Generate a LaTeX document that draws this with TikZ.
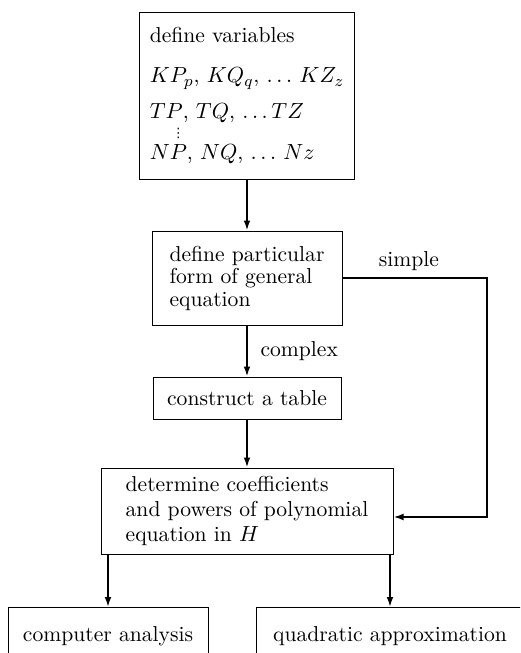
\documentclass[tikz,border=0pt]{standalone}
\usepackage{amsmath,amssymb}
\usepackage{fontspec}
\usepackage{tikz}
\usetikzlibrary{positioning,arrows.meta}
\usepackage{xcolor}
\newfontfamily\dotsfont{DejaVu Sans}
\newcommand{\colondots}{\smash{\raisebox{11pt}{\dotsfont\fontsize{6.5}{7}\selectfont ⋮}}}

\begin{document}
\begin{tikzpicture}[x=0.5pt,y=-0.5pt,>={Latex[length=5pt,width=3.4pt]},
  box/.style={draw,line width=0.5pt,inner sep=0pt,align=left,font=\fontsize{10.8}{11.25}\selectfont},
  flow/.style={->,line width=0.9pt}]
\useasboundingbox (0,0) rectangle (520,653);
\clip (0,0) rectangle (520,653);
\node[box,minimum width=107.5pt,minimum height=83.5pt] (vars) at (247,95.5) {define variables\\[8.75pt] $KP_p$, $KQ_q$, $\ldots\,KZ_z$\\[6.75pt] $TP$, $TQ$, $\ldots TZ$\\[9pt] \rlap{\hspace{11pt}\colondots}$NP$, $NQ$, $\ldots\,Nz$};
\node[box,minimum width=95pt,minimum height=47pt] (form) at (247,278) {define particular\\form of general\\equation};
\node[box,minimum width=94pt,minimum height=21pt] (table) at (247,398) {construct a table};
\node[box,minimum width=146pt,minimum height=43pt,font=\fontsize{10.8}{12.5}\selectfont] (coeff) at (247,511) {determine coefficients\\and powers of polynomial\\equation in $H$};
\node[box,anchor=north,minimum width=100pt,minimum height=29pt] (computer) at (108,607) {computer analysis};
\node[box,anchor=north,minimum width=134pt,minimum height=29pt] (quad) at (390,607) {quadratic approximation};
\coordinate (back) at (487,517);
\draw[flow] (vars) -- (form);
\draw[flow] (form) -- node[right=3pt,font=\fontsize{10.8}{12}\selectfont]{complex} (table);
\draw[flow] (form.east) -| node[pos=0.23,above,font=\fontsize{10.8}{12}\selectfont]{simple} (back) -- (back -| coeff.east);
\draw[flow] (table) -- (coeff);
\draw[flow] (coeff.south -| computer.north) -- (computer.north);
\draw[flow] (coeff.south -| quad.north) -- (quad.north);
\end{tikzpicture}
\end{document}
